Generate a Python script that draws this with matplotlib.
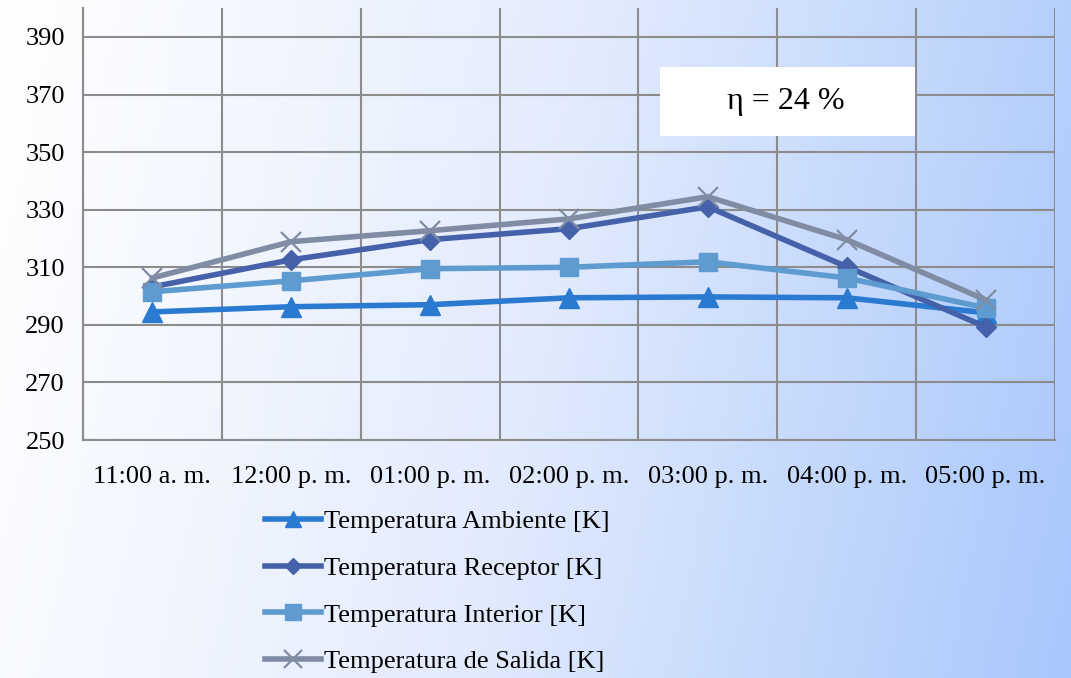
import numpy as np
import matplotlib
matplotlib.use('Agg')
from matplotlib import pyplot as plt
from matplotlib.colors import LinearSegmentedColormap
from matplotlib.patches import Rectangle

horas = ['11:00 a. m.', '12:00 p. m.', '01:00 p. m.', '02:00 p. m.',
         '03:00 p. m.', '04:00 p. m.', '05:00 p. m.']
t_ambiente = [294.5, 296.3, 297.0, 299.4, 299.7, 299.4, 294.2]
t_receptor = [303.2, 312.6, 319.6, 323.4, 331.0, 310.2, 289.3]
t_interior = [301.5, 305.3, 309.5, 310.0, 311.9, 306.3, 295.9]
t_salida = [306.3, 318.9, 322.7, 326.8, 334.5, 319.6, 298.7]
y_ticks = [250, 270, 290, 310, 330, 350, 370, 390]

plt.rcParams['font.family'] = ['Liberation Serif', 'DejaVu Serif']

fig = plt.figure(figsize=(10.71, 6.78), dpi=100)

# gradient background, white on the left to light blue on the right
bg = fig.add_axes([0, 0, 1, 1], zorder=-10)
xx, yy = np.meshgrid(np.linspace(0, 1, 300), np.linspace(0, 1, 200))
grad = np.clip(0.88 * xx + 0.12 * yy, 0, 1)
cmap = LinearSegmentedColormap.from_list('bg', ['#ffffff', '#e2ebfd', '#a8c7fb'])
bg.imshow(grad, cmap=cmap, aspect='auto', extent=[0, 1, 0, 1], origin='upper')
bg.axis('off')

ax = fig.add_axes([0.0775, 0.351, 0.9075, 0.637])
ax.patch.set_alpha(0)
x = np.arange(len(horas))

ax.plot(x, t_ambiente, color='#2a7ad2', lw=4, marker='^', ms=14,
        label='Temperatura Ambiente [K]', zorder=3)
ax.plot(x, t_receptor, color='#4561aa', lw=4, marker='D', ms=10,
        label='Temperatura Receptor [K]', zorder=4)
ax.plot(x, t_interior, color='#5e9bd0', lw=4, marker='s', ms=13,
        label='Temperatura Interior [K]', zorder=5)
ax.plot(x, t_salida, color='#7f8ca3', lw=4, marker='x', ms=15, mew=1.6,
        label='Temperatura de Salida [K]', zorder=6)

ax.set_xlim(-0.5, len(horas) - 0.5)
ax.set_ylim(250, 400)
ax.set_yticks(y_ticks)
ax.set_xticks(x)
ax.set_xticklabels(horas)
ax.set_xticks(np.arange(-0.5, len(horas)), minor=True)
ax.grid(False)
ax.grid(True, which='minor', axis='x', color='#8c8c8c', lw=1.5)
ax.grid(True, which='major', axis='y', color='#8c8c8c', lw=1.5)
ax.tick_params(which='both', length=0, labelsize=19, colors='black')
ax.tick_params(axis='x', pad=19)
ax.tick_params(axis='y', pad=13)
for s in ['top', 'right']:
    ax.spines[s].set_visible(False)
for s in ['left', 'bottom']:
    ax.spines[s].set_color('#8c8c8c')
    ax.spines[s].set_linewidth(1.5)

# white box with the efficiency label
ax.add_patch(Rectangle((660 / 1071, 1 - 136 / 678), 255 / 1071, 69 / 678,
                       transform=fig.transFigure, facecolor='white',
                       edgecolor='none', zorder=7, clip_on=False))
ax.text(786 / 1071, 1 - 101 / 678, 'η = 24 %', transform=fig.transFigure,
        fontsize=23, ha='center', va='center', zorder=8)

leg = fig.legend(loc='upper left', bbox_to_anchor=(0.247, 0.248), frameon=False,
                 fontsize=19, handlelength=2.15, handletextpad=0.1,
                 labelspacing=0.88, borderaxespad=0, borderpad=0,
                 markerscale=0.85)

fig.savefig('out.png', dpi=100)
